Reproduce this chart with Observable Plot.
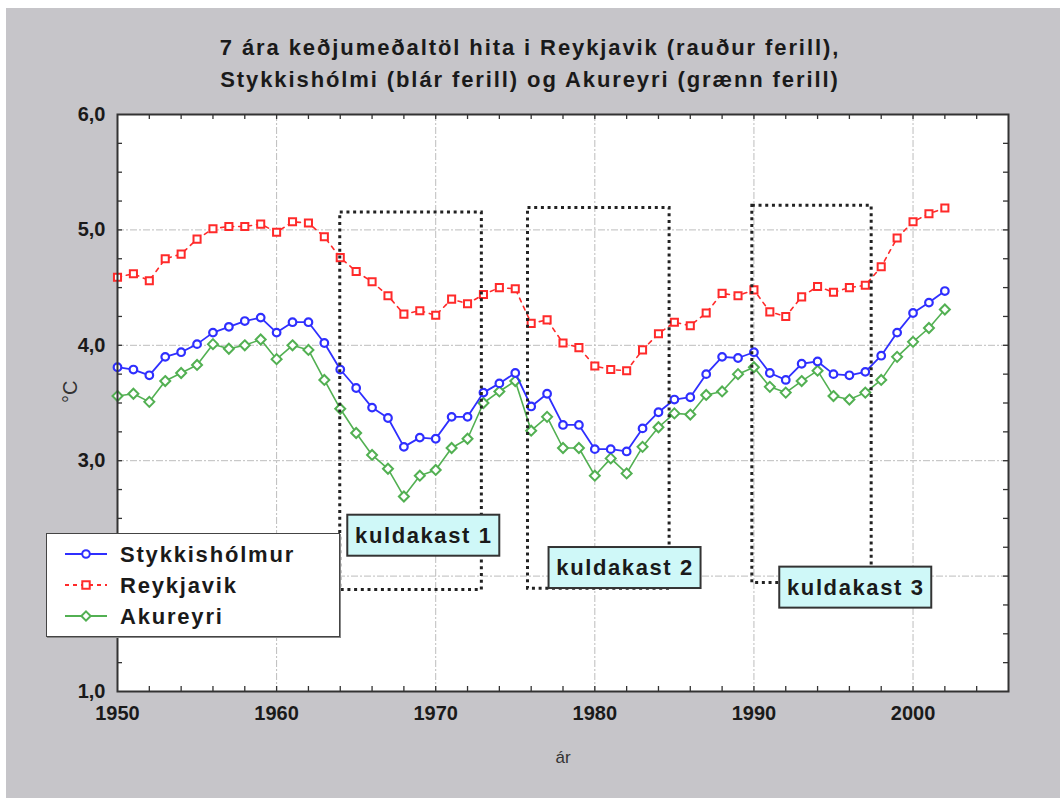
<!DOCTYPE html>
<html><head><meta charset="utf-8">
<script src="https://cdn.jsdelivr.net/npm/d3@7"></script>
<script src="https://cdn.jsdelivr.net/npm/@observablehq/plot@0.6"></script>
<style>
body{margin:0;background:#fff;}
#wrap{position:relative;width:1060px;height:798px;overflow:hidden;font-family:"Liberation Sans",Arial,sans-serif;}
#panel{position:absolute;left:6px;top:8px;right:0;bottom:0;background:#c6c5c9;}
#chart{position:absolute;left:0;top:0;}
#title{position:absolute;left:0;width:1060px;top:32px;text-align:center;font-weight:bold;font-size:22px;letter-spacing:1.9px;line-height:32px;color:#1a1a1a;}
#legend{position:absolute;left:46px;top:533px;width:292px;height:102px;background:#fff;border:1.5px solid #444;box-shadow:1px 1px 0 #888;}
.row{position:absolute;left:0;height:30px;width:100%;}
.row svg{position:absolute;left:16px;top:0;}
.row span{position:absolute;left:73px;top:2px;font-weight:bold;font-size:22px;letter-spacing:1.8px;color:#1a1a1a;line-height:26px;}
</style></head>
<body>
<div id="wrap">
  <div id="panel"></div>
  <div id="chart"></div>
  <div id="title">7 ára keðjumeðaltöl hita i Reykjavik (rauður ferill),<br>Stykkishólmi (blár ferill) og Akureyri (grænn ferill)</div>
  <div id="legend"></div>
</div>
<script>
const years = [1950,1951,1952,1953,1954,1955,1956,1957,1958,1959,1960,1961,1962,1963,1964,1965,1966,1967,1968,1969,1970,1971,1972,1973,1974,1975,1976,1977,1978,1979,1980,1981,1982,1983,1984,1985,1986,1987,1988,1989,1990,1991,1992,1993,1994,1995,1996,1997,1998,1999,2000,2001,2002];
const stykkisholmur = [3.81,3.79,3.74,3.90,3.94,4.01,4.11,4.16,4.21,4.24,4.11,4.20,4.20,4.02,3.79,3.63,3.46,3.37,3.12,3.20,3.19,3.38,3.38,3.59,3.67,3.76,3.47,3.58,3.31,3.31,3.10,3.10,3.08,3.28,3.42,3.53,3.55,3.75,3.90,3.89,3.94,3.76,3.70,3.84,3.86,3.75,3.74,3.77,3.91,4.11,4.28,4.37,4.47];
const reykjavik = [4.59,4.62,4.56,4.75,4.79,4.92,5.01,5.03,5.03,5.05,4.98,5.07,5.06,4.94,4.76,4.64,4.55,4.43,4.27,4.30,4.26,4.40,4.36,4.44,4.50,4.49,4.19,4.22,4.02,3.98,3.82,3.79,3.78,3.96,4.10,4.20,4.17,4.28,4.45,4.43,4.48,4.29,4.25,4.42,4.51,4.46,4.50,4.52,4.68,4.93,5.07,5.14,5.19];
const akureyri = [3.56,3.58,3.51,3.69,3.76,3.83,4.01,3.97,4.00,4.05,3.88,4.00,3.96,3.70,3.45,3.24,3.05,2.93,2.69,2.87,2.92,3.11,3.19,3.50,3.60,3.69,3.26,3.38,3.11,3.11,2.87,3.02,2.89,3.12,3.29,3.41,3.40,3.57,3.60,3.75,3.81,3.64,3.59,3.69,3.78,3.56,3.53,3.59,3.70,3.90,4.03,4.15,4.31];

const seriesNames = ["Stykkishólmur", "Reykjavik", "Akureyri"];
const seriesColors = ["#2f2fff", "#ff2a2a", "#52b052"];

const xTicks = [1950,1960,1970,1980,1990,2000];
const xMinorTicks = [1952,1954,1956,1958,1960,1962,1964,1966,1968,1970,1972,1974,1976,1978,1980,1982,1984,1986,1988,1990,1992,1994,1996,1998,2000,2002,2004];
const yTicks = [1,2,3,4,5,6];
const yMinorTicks = [1.25,1.5,1.75,2,2.25,2.5,2.75,3,3.25,3.5,3.75,4,4.25,4.5,4.75,5,5.25,5.5,5.75];

const coldStart = [1964, 1975.8, 1989.9];
const coldEnd = [1972.9, 1984.7, 1997.4];
const coldTop = [5.15, 5.19, 5.21];
const coldBottom = [1.88, 1.89, 1.94];
const coldLabels = ["kuldakast 1", "kuldakast 2", "kuldakast 3"];
const coldLabelX = [1969.25, 1981.9, 1996.4];
const coldLabelY = [2.35, 2.07, 1.90];

const W = 1060, H = 798, ML = 117, MR = 52, MT = 114, MB = 107;
const frameW = W - ML - MR, frameH = H - MT - MB, tick = 5;

const table = years.map((yr, i) => ({year: yr, s: stykkisholmur[i], r: reykjavik[i], a: akureyri[i]}));
const boxes = coldStart.map((d, i) => ({x1: d, x2: coldEnd[i], y1: coldBottom[i], y2: coldTop[i], label: coldLabels[i], lx: coldLabelX[i], ly: coldLabelY[i]}));
const fmt = d => d.toFixed(1).replace(".", ",");
const grid = {stroke: "#bdbdbd", strokeOpacity: 1, strokeWidth: 1, strokeDasharray: "7,2,2,2"};
const tickStyle = {stroke: "#333", strokeWidth: 1.3};

const plot = Plot.plot({
  width: W, height: H,
  marginLeft: ML, marginRight: MR, marginTop: MT, marginBottom: MB,
  style: {background: "transparent", fontFamily: "Liberation Sans, Arial, sans-serif", fontSize: "20px", color: "#1a1a1a"},
  x: {domain: [1950, 2006]},
  y: {domain: [1, 6]},
  marks: [
    Plot.frame({fill: "white"}),
    Plot.gridX(xTicks.slice(1), grid),
    Plot.gridY(yTicks.slice(1, -1), grid),
    Plot.tickX(xMinorTicks, {x: d => d, insetTop: frameH - tick, ...tickStyle}),
    Plot.tickX(xMinorTicks, {x: d => d, insetBottom: frameH - tick, ...tickStyle}),
    Plot.tickY(yMinorTicks, {y: d => d, insetRight: frameW - tick, ...tickStyle}),
    Plot.tickY(yMinorTicks, {y: d => d, insetLeft: frameW - tick, ...tickStyle}),
    Plot.axisX(xTicks, {anchor: "bottom", tickSize: 0, tickPadding: 14, fontWeight: "bold", fontSize: 20, label: null, tickFormat: d => String(d)}),
    Plot.axisY(yTicks, {anchor: "left", tickSize: 0, tickPadding: 12, fontWeight: "bold", fontSize: 20, label: null, tickFormat: fmt}),
    Plot.text(["ár"], {frameAnchor: "bottom", dy: 71, fontSize: 17, fill: "#333"}),
    Plot.text(["°C"], {frameAnchor: "left", dx: -47, rotate: -90, fontSize: 20, fill: "#333"}),
    Plot.line(table, {x: "year", y: "a", stroke: seriesColors[2], strokeWidth: 1.6}),
    Plot.dot(table, {x: "year", y: "a", symbol: "diamond2", r: 4.5, stroke: seriesColors[2], fill: "white", strokeWidth: 2}),
    Plot.line(table, {x: "year", y: "r", stroke: seriesColors[1], strokeWidth: 1.6, strokeDasharray: "4,5"}),
    Plot.dot(table, {x: "year", y: "r", symbol: "square", r: 4, stroke: seriesColors[1], fill: "white", strokeWidth: 2}),
    Plot.line(table, {x: "year", y: "s", stroke: seriesColors[0], strokeWidth: 1.8}),
    Plot.dot(table, {x: "year", y: "s", symbol: "circle", r: 3.8, stroke: seriesColors[0], fill: "white", strokeWidth: 2.2}),
    Plot.rect(boxes, {x1: "x1", x2: "x2", y1: "y1", y2: "y2", fill: "none", stroke: "#222", strokeWidth: 3, strokeDasharray: "3,3.7"}),
    Plot.rect(boxes, {x1: "lx", x2: "lx", y1: "ly", y2: "ly", insetLeft: -76, insetRight: -76, insetTop: -20.5, insetBottom: -20.5, fill: "#cff8f8", stroke: "#333", strokeWidth: 2}),
    Plot.text(boxes, {x: "lx", y: "ly", text: "label", fontSize: 22, fontWeight: "bold", fill: "#1a1a1a"}),
    Plot.frame({stroke: "#333", strokeWidth: 2})
  ]
});
d3.select(plot).selectAll('g[aria-label="text"] text').filter(function(){ return /kuldakast/.test(this.textContent); }).style("letter-spacing", "1.6px");
document.getElementById("chart").appendChild(plot);

// Legend
const symbols = ["circle", "square", "diamond2"];
const dashes = [null, "4,4", null];
const legend = d3.select("#legend");
seriesNames.forEach((name, i) => {
  const row = legend.append("div").attr("class", "row").style("top", (6 + i * 31) + "px");
  const svg = row.append("svg").attr("width", 46).attr("height", 30);
  svg.append("line").attr("x1", 2).attr("x2", 44).attr("y1", 14).attr("y2", 14)
    .attr("stroke", seriesColors[i]).attr("stroke-width", 1.8).attr("stroke-dasharray", dashes[i]);
  const sym = {circle: d3.symbolCircle, square: d3.symbolSquare, diamond2: d3.symbolDiamond2}[symbols[i]];
  svg.append("path").attr("d", d3.symbol(sym, i === 0 ? 45 : 55)()).attr("transform", "translate(23,14)")
    .attr("fill", "white").attr("stroke", seriesColors[i]).attr("stroke-width", 2);
  row.append("span").text(name);
});
</script>
</body></html>
